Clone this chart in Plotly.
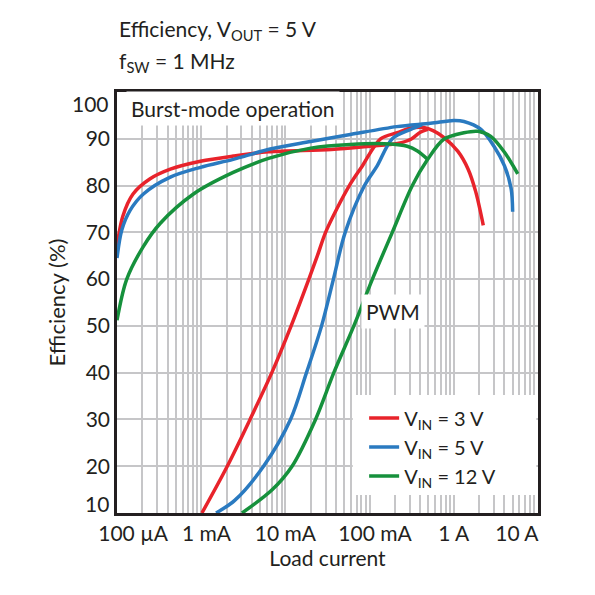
import plotly.graph_objects as go

# load current (A) and efficiency (%)
red_burst_i = [1e-4, 1.17e-4, 1.55e-4, 2.45e-4, 4.3e-4, 9.8e-4, 2.4e-3, 6.3e-3,
               0.035, 0.1, 0.214, 0.31, 0.40, 0.49]
red_burst_eff = [67, 73.4, 78.2, 81.4, 83.5, 85.2, 86.3, 87.2,
                 87.7, 88.4, 89, 89.9, 91.4, 92]
red_pwm_i = [1.02e-3, 2.04e-3, 3.8e-3, 6.9e-3, 0.0117, 0.019, 0.024, 0.030, 0.0407,
             0.0575, 0.082, 0.135, 0.214, 0.31, 0.44, 0.575, 0.76, 1.12, 1.48, 1.82, 2.24]
red_pwm_eff = [10, 20, 30, 40, 50, 60, 65, 70, 75,
               80, 84.2, 90, 91.3, 92.3, 92.4, 91.7, 90.3, 87.3, 83.5, 78.7, 71.5]

blue_burst_i = [1e-4, 1.14e-4, 1.43e-4, 2.06e-4, 4.3e-4, 9.8e-4, 2.4e-3, 6.6e-3,
                0.02, 0.059, 0.21, 0.53, 1.0, 1.32, 2.1, 3.0, 4.0, 4.8, 5.0]
blue_burst_eff = [64.5, 70.5, 74.7, 78.2, 81.8, 83.9, 85.6, 87.8,
                  89.4, 90.9, 92.6, 93.3, 93.9, 93.7, 92, 88.4, 84.2, 79.3, 74.4]
blue_pwm_i = [1.5e-3, 2.5e-3, 5.5e-3, 0.0115, 0.0178, 0.0269, 0.0372, 0.0513,
              0.087, 0.123, 0.186, 0.308, 0.42]
blue_pwm_eff = [10, 12.7, 20, 30, 40, 50, 60, 70,
                80, 84.2, 90, 92, 93]

green_burst_i = [1e-4, 1.3e-4, 2.06e-4, 3.25e-4, 8.1e-4, 2.4e-3, 6.3e-3, 0.02,
                 0.059, 0.178, 0.28, 0.37, 0.49]
green_burst_eff = [51.2, 59.9, 67, 71.9, 78.2, 82.8, 85.8, 88.0,
                   88.8, 88.9, 88.4, 87.4, 85.6]
green_pwm_i = [3.05e-3, 6.9e-3, 0.012, 0.0228, 0.0376, 0.065, 0.108, 0.186, 0.322,
               0.49, 0.76, 1.32, 1.95, 2.75, 4.0, 5.75]
green_pwm_eff = [10, 14.9, 20, 30, 40, 50, 60, 70, 80,
                 85.6, 89.9, 91.3, 91.6, 90.5, 87.1, 82.5]

NB = "\u00a0"
decade_vals = [1e-4, 1e-3, 1e-2, 1e-1, 1, 10]
decade_text = [NB * 6 + "100 µA", NB * 2 + "1 mA", "10 mA", NB * 2 + "100 mA", "1 A", "10 A" + NB * 8]
y_ticks = [20, 30, 40, 50, 60, 70, 80, 90]

FONT = "Lato"
INK = "#231f20"
GRID = "#c6c6c8"
FS = 21

series = [
    ("V<sub>IN</sub> = 3 V", "#e8232b", red_burst_i, red_burst_eff, red_pwm_i, red_pwm_eff),
    ("V<sub>IN</sub> = 5 V", "#2a7ac0", blue_burst_i, blue_burst_eff, blue_pwm_i, blue_pwm_eff),
    ("V<sub>IN</sub> = 12 V", "#16913c", green_burst_i, green_burst_eff, green_pwm_i, green_pwm_eff),
]

fig = go.Figure()
for name, color, bi, be, pi, pe in series:
    fig.add_trace(go.Scatter(x=bi, y=be, mode="lines", name=name, legendgroup=name,
                             line=dict(color=color, width=3.5, shape="spline", smoothing=0.9)))
    fig.add_trace(go.Scatter(x=pi, y=pe, mode="lines", name=name, legendgroup=name,
                             showlegend=False,
                             line=dict(color=color, width=3.5, shape="spline", smoothing=0.9)))

# grid lines at every 1..9 of each decade, labels only on decades
grid_vals = []
grid_text = []
for n, d in enumerate(decade_vals[:-1]):
    for k in range(1, 10):
        grid_vals.append(d * k)
        grid_text.append(decade_text[n] if k == 1 else " ")
grid_vals.append(decade_vals[-1])
grid_text.append(decade_text[-1])

fig.update_xaxes(type="log", range=[-4, 1], tickvals=grid_vals, ticktext=grid_text,
                 tickangle=0,
                 showgrid=True, gridcolor=GRID, gridwidth=1.5,
                 showline=True, linecolor=INK, linewidth=2.5, mirror=True,
                 ticks="", tickfont=dict(size=FS, color=INK, family=FONT),
                 title=dict(text="Load current", font=dict(size=FS, color=INK, family=FONT),
                            standoff=6),
                 zeroline=False, automargin=False)
fig.update_yaxes(range=[10, 100], tickvals=y_ticks,
                 showgrid=True, gridcolor=GRID, gridwidth=1.5,
                 showline=True, linecolor=INK, linewidth=2.5, mirror=True,
                 ticks="", tickfont=dict(size=FS, color=INK, family=FONT),
                 title=dict(text="Efficiency (%)", font=dict(size=FS + 1, color=INK, family=FONT),
                            standoff=14),
                 zeroline=False, automargin=False)

# end labels of the y axis sit just inside the frame
fig.add_annotation(text="100", xref="paper", yref="y", x=0, y=100, xanchor="right",
                   xshift=-6, yshift=-11, showarrow=False,
                   font=dict(size=FS, color=INK, family=FONT))
fig.add_annotation(text="10", xref="paper", yref="y", x=0, y=10, xanchor="right",
                   xshift=-6, yshift=10, showarrow=False,
                   font=dict(size=FS, color=INK, family=FONT))

# white box behind the legend (covers the grid, leaves the frame)
fig.add_shape(type="rect", xref="paper", yref="paper", x0=0.56, x1=0.996, y0=0.043, y1=0.28,
              fillcolor="white", line=dict(width=0), layer="above")

fig.add_annotation(text="Burst-mode operation", xref="paper", yref="paper", x=0.0, y=1.0,
                   xanchor="left", yanchor="top", xshift=9, yshift=1, showarrow=False,
                   bgcolor="white", borderpad=4, font=dict(size=FS, color=INK, family=FONT))
fig.add_annotation(text="PWM", x=-0.72, y=53, showarrow=False, bgcolor="white",
                   borderpad=4, font=dict(size=FS, color=INK, family=FONT))
fig.add_annotation(text="Efficiency, V<sub>OUT</sub> = 5 V", xref="paper", yref="paper",
                   x=0.0, y=1.147, xanchor="left", yanchor="middle", showarrow=False,
                   font=dict(size=FS, color=INK, family=FONT))
fig.add_annotation(text="f<sub>SW</sub> = 1 MHz", xref="paper", yref="paper",
                   x=0.0, y=1.071, xanchor="left", yanchor="middle", showarrow=False,
                   font=dict(size=FS, color=INK, family=FONT))

# page body adds an 8 px offset, so the figure is drawn 8 px smaller
fig.update_layout(
    width=587, height=587,
    margin=dict(l=109, r=57, t=84, b=82),
    plot_bgcolor="white", paper_bgcolor="white",
    font=dict(family=FONT, color=INK),
    legend=dict(x=0.587, y=0.272, xanchor="left", yanchor="top",
                bgcolor="rgba(0,0,0,0)", font=dict(size=FS - 1, color=INK, family=FONT),
                tracegroupgap=0, itemwidth=30),
)

fig.write_html("out.html")
